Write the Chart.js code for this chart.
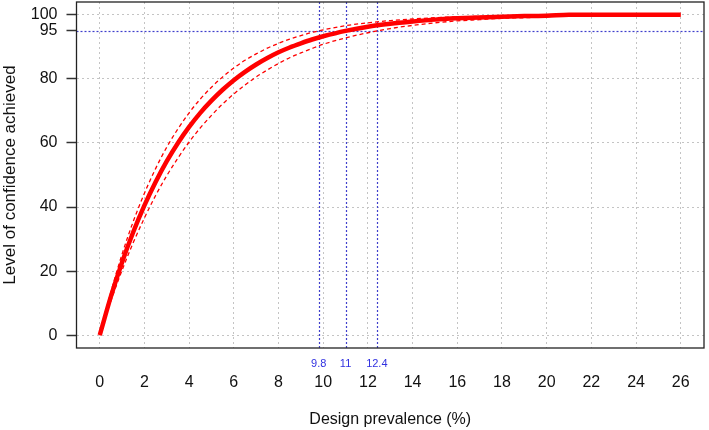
<!DOCTYPE html>
<html>
<head>
<meta charset="utf-8">
<script src="https://cdn.jsdelivr.net/npm/chart.js@4.4.0/dist/chart.umd.min.js"></script>
<style>
html,body{margin:0;padding:0;background:#fff;}
#wrap{width:709px;height:430px;}
</style>
</head>
<body>
<div id="wrap"><canvas id="c" width="709" height="430"></canvas></div>
<script>
// Design prevalence (%)
const prevalence = [0,0.5,1,1.5,2,2.5,3,3.5,4,4.5,5,5.5,6,6.5,7,7.5,8,8.5,9,9.5,10,
  11,12,13,14,15,16,17,18,19,20,21,22,23,24,25,26];
// Level of confidence achieved (%) - central estimate
const confMain = [0,12.1,22.8,32.2,40.5,47.8,54.3,60.0,65.0,69.4,73.2,76.6,79.6,82.2,84.5,86.5,88.3,89.8,91.1,92.3,93.3,
  95.0,96.3,97.2,97.9,98.5,98.9,99.2,99.4,99.6,99.7,100,100,100,100,100,100];
// upper bound
const confUpper = [0,13.5,25.3,35.5,44.3,52.0,58.7,64.4,69.4,73.7,77.4,80.6,83.4,85.8,87.8,89.6,91.1,92.4,93.5,94.5,95.3,
  96.6,97.5,98.2,98.7,99.1,99.4,99.5,99.7,99.8,99.8,100,100,100,100,100,100];
// lower bound
const confLower = [0,10.7,20.3,28.9,36.6,43.6,49.8,55.3,60.3,64.7,68.6,72.2,75.3,78.1,80.6,82.8,84.8,86.6,88.1,89.5,90.8,
  92.8,94.4,95.7,96.7,97.5,98.1,98.5,98.9,99.1,99.4,100,100,100,100,100,100];

const xTicks = [0,2,4,6,8,10,12,14,16,18,20,22,24,26];
const yTicks = [0,20,40,60,80,95,100];
const refPrevalence = [9.8, 11, 12.4];
const refPrevalenceLabels = ['9.8','11','12.4'];
const refConfidence = 95;

const pts = arr => prevalence.map((p,i)=>({x:p,y:arr[i]}));

const FONT = "'Liberation Sans', Arial, sans-serif";
const BLUE = '#4040cc';

const refPlugin = {
  id:'refs',
  beforeDatasetsDraw(chart){
    const {ctx, chartArea:a, scales:{x,y}} = chart;
    ctx.save();
    ctx.strokeStyle = BLUE; ctx.lineWidth = 1.2; ctx.setLineDash([2,2]);
    const yy = Math.round(y.getPixelForValue(refConfidence))+0.5;
    ctx.beginPath(); ctx.moveTo(a.left,yy); ctx.lineTo(a.right,yy); ctx.stroke();
    refPrevalence.forEach(v=>{
      const xx = Math.round(x.getPixelForValue(v))+0.5;
      ctx.beginPath(); ctx.moveTo(xx,a.top); ctx.lineTo(xx,a.bottom); ctx.stroke();
    });
    ctx.restore();
  },
  afterDraw(chart){
    const {ctx, chartArea:a, scales:{x}} = chart;
    ctx.save();
    ctx.strokeStyle = '#222'; ctx.lineWidth = 1.3; ctx.setLineDash([]);
    ctx.strokeRect(a.left, a.top, a.right-a.left, a.bottom-a.top);
    ctx.fillStyle = '#3030e0';
    ctx.font = '11px ' + FONT;
    ctx.textAlign = 'center'; ctx.textBaseline = 'middle';
    refPrevalence.forEach((v,i)=>{
      ctx.fillText(refPrevalenceLabels[i], x.getPixelForValue(v), a.bottom + 16);
    });
    ctx.restore();
  }
};

new Chart(document.getElementById('c'), {
  type:'line',
  data:{
    datasets:[
      {data:pts(confMain), borderColor:'#ff0000', borderWidth:4.5, pointRadius:0, cubicInterpolationMode:'monotone', order:0},
      {data:pts(confUpper), borderColor:'#ff0000', borderWidth:1.3, borderDash:[4,3], pointRadius:0, cubicInterpolationMode:'monotone', order:1},
      {data:pts(confLower), borderColor:'#ff0000', borderWidth:1.3, borderDash:[4,3], pointRadius:0, cubicInterpolationMode:'monotone', order:1}
    ]
  },
  options:{
    responsive:false,
    animation:false,
    events:[],
    layout:{padding:{top:2,right:5,left:0,bottom:0}},
    plugins:{legend:{display:false}, tooltip:{enabled:false}},
    scales:{
      x:{
        type:'linear', min:-1.04, max:27.04,
        afterBuildTicks(s){ s.ticks = xTicks.map(v=>({value:v})); },
        afterFit(s){ s.height = 82; s.paddingLeft = 0; s.paddingRight = 0; },
        grid:{color:'#c4c4c4', lineWidth:1, drawTicks:false},
        border:{display:false, dash:[2,3]},
        ticks:{color:'#111', font:{family:FONT,size:16}, padding:25, maxRotation:0, autoSkip:false,
          callback:v=>String(v)},
        title:{display:true, text:'Design prevalence (%)', color:'#111', font:{family:FONT,size:16}, padding:{top:0,bottom:1}}
      },
      y:{
        type:'linear', min:-4, max:104,
        afterBuildTicks(s){ s.ticks = yTicks.map(v=>({value:v})); },
        afterFit(s){ s.width = 76.5; s.paddingTop = 0; s.paddingBottom = 0; },
        grid:{color:c=> c.tick && c.tick.value===95 ? 'rgba(0,0,0,0)' : '#c4c4c4', lineWidth:1,
          drawTicks:true, tickLength:10, tickColor:'#333', tickWidth:1.5, tickBorderDash:[]},
        border:{display:false, dash:[2,3]},
        ticks:{color:'#111', font:{family:FONT,size:16}, padding:9, autoSkip:false, callback:v=>String(v)},
        title:{display:true, text:'Level of confidence achieved', color:'#111', font:{family:FONT,size:17}, padding:{top:0,bottom:0}}
      }
    }
  },
  plugins:[refPlugin]
});
</script>
</body>
</html>
